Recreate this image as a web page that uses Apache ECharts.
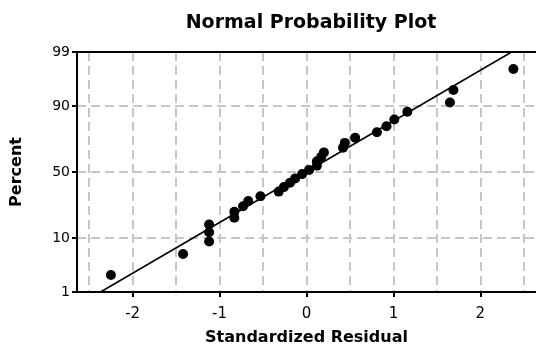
<!DOCTYPE html>
<html>
<head>
<meta charset="utf-8">
<script src="https://cdn.jsdelivr.net/npm/echarts@6/dist/echarts.min.js"></script>
<style>html,body{margin:0;padding:0;background:#fff}#c{width:536px;height:354px}</style>
</head>
<body>
<div id="c"></div>
<script>
// Standardized residuals (sorted)
var residuals = [-2.25, -1.42, -1.12, -1.12, -1.12, -0.83, -0.83, -0.73, -0.67, -0.53,
  -0.32, -0.26, -0.19, -0.13, -0.05, 0.03, 0.12, 0.12, 0.17, 0.20,
  0.42, 0.44, 0.56, 0.81, 0.92, 1.01, 1.16, 1.65, 1.69, 2.38];
// Percent (plotting position) of each point
var percents = [2.30, 5.59, 8.88, 12.17, 15.46, 18.75, 22.04, 25.33, 28.62, 31.91,
  35.20, 38.49, 41.78, 45.07, 48.36, 51.64, 54.93, 58.22, 61.51, 64.80,
  68.09, 71.38, 74.67, 77.96, 81.25, 84.54, 87.83, 91.12, 94.41, 97.70];
// Fitted line end points (residual, percent)
var fitResidual = [-2.37, 2.36];
var fitPercent = [1, 99];
// Tick labels
var percentTicks = [1, 10, 50, 90, 99];
var residualTicks = [-2, -1, 0, 1, 2];
var residualGrid = [-2.5, -2, -1.5, -1, -0.5, 0, 0.5, 1, 1.5, 2, 2.5];
var xMin = -2.64, xMax = 2.64;

// inverse standard normal CDF (probability scale transform)
function probit(p) {
  var a = [-3.969683028665376e+01, 2.209460984245205e+02, -2.759285104469687e+02, 1.383577518672690e+02, -3.066479806614716e+01, 2.506628277459239e+00];
  var b = [-5.447609879822406e+01, 1.615858368580409e+02, -1.556989798598866e+02, 6.680131188771972e+01, -1.328068155288572e+01];
  var c = [-7.784894002430293e-03, -3.223964580411365e-01, -2.400758277161838e+00, -2.549732539343734e+00, 4.374664141464968e+00, 2.938163982698783e+00];
  var d = [7.784695709041462e-03, 3.224671290700398e-01, 2.445134137142996e+00, 3.754408661907416e+00];
  var pl = 0.02425, q, r;
  if (p < pl) { q = Math.sqrt(-2 * Math.log(p)); return (((((c[0]*q+c[1])*q+c[2])*q+c[3])*q+c[4])*q+c[5]) / ((((d[0]*q+d[1])*q+d[2])*q+d[3])*q+1); }
  if (p <= 1 - pl) { q = p - 0.5; r = q*q; return (((((a[0]*r+a[1])*r+a[2])*r+a[3])*r+a[4])*r+a[5])*q / (((((b[0]*r+b[1])*r+b[2])*r+b[3])*r+b[4])*r+1); }
  q = Math.sqrt(-2 * Math.log(1 - p)); return -(((((c[0]*q+c[1])*q+c[2])*q+c[3])*q+c[4])*q+c[5]) / ((((d[0]*q+d[1])*q+d[2])*q+d[3])*q+1);
}
function z(pct) { return probit(pct / 100); }

var zTicks = percentTicks.map(z);
var labelMap = {};
zTicks.forEach(function (v, i) { labelMap[v.toFixed(4)] = String(percentTicks[i]); });

var FONT = 'DejaVu Sans';
var chart = echarts.init(document.getElementById('c'), null, {renderer: 'canvas'});
chart.setOption({
  animation: false,
  backgroundColor: '#fff',
  title: {
    text: 'Normal Probability Plot',
    left: 306, top: 9, textAlign: 'center',
    textStyle: {fontFamily: FONT, fontWeight: 'bold', fontSize: 19, color: '#000'}
  },
  grid: {left: 77, right: 0, top: 52, bottom: 62, containLabel: false},
  xAxis: [{
    type: 'value', position: 'bottom', min: xMin, max: xMax,
    name: 'Standardized Residual', nameLocation: 'middle', nameGap: 38,
    nameTextStyle: {fontFamily: FONT, fontWeight: 'bold', fontSize: 16, color: '#000'},
    axisLine: {show: true, onZero: false, lineStyle: {color: '#000', width: 2}},
    axisTick: {show: true, customValues: residualTicks, length: 5, inside: false, lineStyle: {color: '#000', width: 2}},
    axisLabel: {customValues: residualTicks, margin: 15, fontFamily: FONT, fontSize: 15, color: '#000'},
    splitLine: {show: false}
  }, {
    type: 'value', position: 'top', min: xMin, max: xMax,
    axisLine: {show: true, onZero: false, lineStyle: {color: '#000', width: 2}},
    axisTick: {show: false, customValues: residualGrid},
    axisLabel: {show: false},
    splitLine: {show: true, lineStyle: {color: '#c6c6c6', width: 2, type: [9, 5]}}
  }],
  yAxis: [{
    type: 'value', min: z(percentTicks[0]), max: z(percentTicks[percentTicks.length - 1]),
    name: 'Percent', nameLocation: 'middle', nameGap: 52,
    nameTextStyle: {fontFamily: FONT, fontWeight: 'bold', fontSize: 16, color: '#000'},
    axisLine: {show: true, onZero: false, lineStyle: {color: '#000', width: 2}},
    axisTick: {show: true, customValues: zTicks, length: 5, lineStyle: {color: '#000', width: 2}},
    axisLabel: {customValues: zTicks, margin: 7, fontFamily: FONT, fontSize: 14, color: '#000',
      formatter: function (v) { return labelMap[v.toFixed(4)] || ''; }},
    splitLine: {show: true, lineStyle: {color: '#c6c6c6', width: 2, type: [9, 5]}}
  }],
  series: [{
    type: 'line', xAxisIndex: 0,
    data: fitResidual.map(function (x, i) { return [x, z(fitPercent[i])]; }),
    showSymbol: false, symbol: 'none',
    lineStyle: {color: '#000', width: 1.5}, z: 3, silent: true
  }, {
    type: 'scatter', xAxisIndex: 0,
    data: residuals.map(function (x, i) { return [x, z(percents[i])]; }),
    symbol: 'circle', symbolSize: 10,
    itemStyle: {color: '#000', opacity: 1}, z: 4
  }]
});
</script>
</body>
</html>
